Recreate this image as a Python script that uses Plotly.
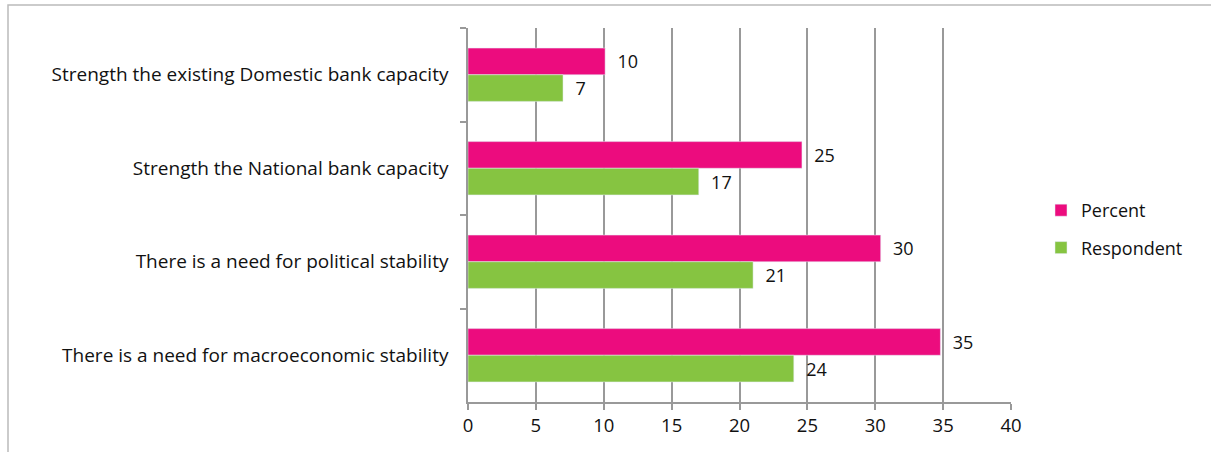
import plotly.graph_objects as go

categories = [
    "Strength the existing Domestic bank capacity",
    "Strength the National bank capacity",
    "There is a need for political stability",
    "There is a need for macroeconomic stability",
]
respondent = [7, 17, 21, 24]
percent = [10.1, 24.6, 30.4, 34.8]
x_ticks = [0, 5, 10, 15, 20, 25, 30, 35, 40]

W, H = 1211, 452
L, R, T, B = 468, 200, 28, 50
pw, ph = W - L - R, H - T - B

font_family = "Open Sans, Noto Sans, sans-serif"
pad = "\u00a0\u00a0"

fig = go.Figure()
fig.add_trace(go.Bar(
    y=categories, x=percent, name="Percent", orientation="h",
    marker=dict(color="#EC0C7E"), legendgroup="p",
    text=percent, texttemplate=pad + "%{x:.0f}", textposition="outside",
    textfont=dict(size=18, color="#111"), cliponaxis=False,
))
fig.add_trace(go.Bar(
    y=categories, x=respondent, name="Respondent", orientation="h",
    marker=dict(color="#86C441"), legendgroup="r",
    text=respondent, texttemplate=pad + "%{x:.0f}", textposition="outside",
    textfont=dict(size=18, color="#111"), cliponaxis=False,
))

# outer frame
fig.add_shape(type="rect", xref="paper", yref="paper",
              x0=(8 - L) / pw, x1=(W + 20 - L) / pw,
              y0=-(B + 20) / ph, y1=1 + (T - 5) / ph,
              line=dict(color="#BBBBBB", width=1.5), fillcolor="rgba(0,0,0,0)",
              layer="below")

fig.update_layout(
    width=W, height=H,
    margin=dict(l=L, r=R, t=T, b=B, autoexpand=False),
    paper_bgcolor="white", plot_bgcolor="white",
    barmode="group", bargap=0.43, bargroupgap=0,
    font=dict(family=font_family, size=18, color="#111"),
    showlegend=True,
    legend=dict(x=(1041 - L) / pw, y=1 - (229 - T) / ph, xanchor="left", yanchor="middle",
                font=dict(size=18, color="#111"), tracegroupgap=11,
                traceorder="grouped", itemwidth=30),
    xaxis=dict(range=[0, 40], tickvals=x_ticks, showgrid=True, gridcolor="#999999",
               gridwidth=1.5, zeroline=False, showline=True, linecolor="#999999",
               linewidth=1.5, ticks="outside", ticklen=6, tickcolor="#999999",
               tickwidth=1.5, tickfont=dict(size=18.5, color="#111"), fixedrange=True),
    yaxis=dict(autorange="reversed", categoryorder="array", categoryarray=categories,
               showline=True, linecolor="#999999", linewidth=1.5, ticks="outside",
               tickson="boundaries", ticklen=6, tickcolor="#999999", tickwidth=1.5,
               showgrid=False, tickfont=dict(size=19, color="#111"),
               ticklabelstandoff=14),
)

fig.write_html("out.html")
